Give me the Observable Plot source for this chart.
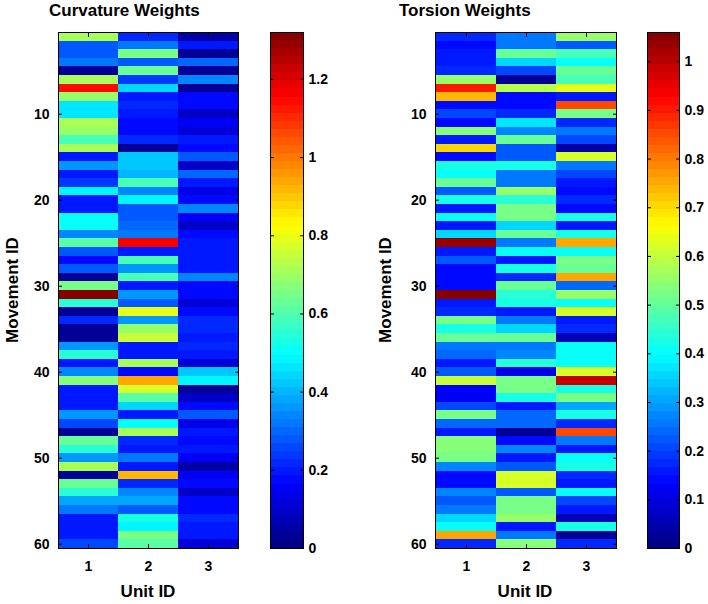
<!DOCTYPE html>
<html><head><meta charset="utf-8">
<script src="https://cdn.jsdelivr.net/npm/d3@7"></script>
<script src="https://cdn.jsdelivr.net/npm/@observablehq/plot@0.6"></script>
<style>
body{margin:0;background:#fff;}
#root{position:relative;width:708px;height:604px;font-family:"Liberation Sans",Arial,Helvetica,sans-serif;}
.p{position:absolute;top:0;}
.title{position:absolute;font-weight:bold;font-size:17px;line-height:20px;top:1px;color:#000;white-space:nowrap;}
.lab{position:absolute;font-weight:bold;font-size:17px;line-height:20px;color:#000;white-space:nowrap;}
</style></head><body><div id="root"></div>
<script>
const units = [1, 2, 3];
const movements = d3.range(1, 61);
const yTicks = [10, 20, 30, 40, 50, 60];
const curvTicks = [0, 0.2, 0.4, 0.6, 0.8, 1, 1.2];
const torsTicks = [0, 0.1, 0.2, 0.3, 0.4, 0.5, 0.6, 0.7, 0.8, 0.9, 1];
const curvMax = 1.32;
const torsMax = 1.06;

const curv1 = [0.72,0.27,0.27,0.31,0.03,0.72,1.15,0.70,0.47,0.47,0.72,0.70,0.58,0.72,0.20,0.37,0.20,0.24,0.48,0.20,0.20,0.50,0.50,0.34,0.60,0.28,0.17,0.28,0.03,0.64,1.30,0.54,0.03,0.22,0.03,0.03,0.37,0.55,0.20,0.33,0.66,0.20,0.20,0.20,0.36,0.25,0.03,0.62,0.55,0.37,0.72,0.03,0.63,0.55,0.38,0.32,0.20,0.20,0.20,0.25];
const curv2 = [0.22,0.32,0.64,0.27,0.62,0.24,0.44,0.20,0.22,0.20,0.18,0.18,0.22,0.03,0.42,0.43,0.40,0.58,0.33,0.49,0.27,0.27,0.29,0.31,1.17,0.20,0.58,0.36,0.58,0.20,0.36,0.28,0.80,0.36,0.70,0.75,0.20,0.20,0.72,0.17,0.93,0.78,0.60,0.45,0.20,0.51,0.72,0.22,0.20,0.31,0.20,0.92,0.22,0.33,0.38,0.28,0.52,0.48,0.65,0.60];
const curv3 = [0.05,0.20,0.04,0.30,0.04,0.33,0.04,0.18,0.18,0.10,0.16,0.12,0.20,0.18,0.27,0.09,0.30,0.19,0.14,0.17,0.33,0.16,0.10,0.17,0.20,0.20,0.20,0.20,0.33,0.18,0.18,0.12,0.17,0.22,0.22,0.20,0.22,0.20,0.12,0.42,0.49,0.04,0.10,0.17,0.27,0.13,0.20,0.18,0.20,0.16,0.05,0.16,0.18,0.10,0.17,0.17,0.22,0.20,0.20,0.11];
const tors1 = [0.18,0.14,0.16,0.16,0.18,0.56,0.90,0.74,0.14,0.20,0.14,0.54,0.16,0.70,0.14,0.42,0.40,0.50,0.22,0.43,0.16,0.40,0.16,0.35,1.03,0.16,0.22,0.14,0.14,0.14,1.05,0.16,0.18,0.52,0.43,0.50,0.26,0.24,0.16,0.22,0.61,0.13,0.13,0.20,0.52,0.24,0.16,0.53,0.53,0.52,0.28,0.14,0.14,0.28,0.22,0.26,0.35,0.40,0.76,0.18];
const tors2 = [0.26,0.26,0.50,0.35,0.20,0.02,0.58,0.14,0.14,0.18,0.37,0.28,0.50,0.22,0.22,0.43,0.26,0.26,0.56,0.44,0.52,0.52,0.35,0.50,0.26,0.40,0.16,0.43,0.18,0.50,0.44,0.43,0.16,0.26,0.35,0.50,0.26,0.28,0.44,0.10,0.52,0.52,0.43,0.16,0.24,0.24,0.03,0.14,0.28,0.16,0.22,0.62,0.62,0.22,0.52,0.52,0.55,0.16,0.26,0.53];
const tors3 = [0.55,0.22,0.48,0.40,0.50,0.48,0.63,0.16,0.86,0.52,0.18,0.26,0.20,0.04,0.62,0.26,0.20,0.15,0.14,0.18,0.14,0.43,0.16,0.42,0.75,0.40,0.52,0.50,0.75,0.24,0.55,0.40,0.62,0.16,0.18,0.06,0.40,0.40,0.40,0.62,0.98,0.43,0.52,0.30,0.43,0.18,0.86,0.26,0.16,0.40,0.43,0.18,0.16,0.40,0.20,0.16,0.06,0.43,0.03,0.18];

// MATLAB-like jet colormap with 64 discrete levels
function jet(t) {
  const k = Math.min(63, Math.max(0, Math.floor(t * 64)));
  const x = (k + 0.5) / 64;
  const c = v => Math.round(255 * Math.max(0, Math.min(1, v)));
  return `rgb(${c(1.5 - Math.abs(4 * x - 3))},${c(1.5 - Math.abs(4 * x - 2))},${c(1.5 - Math.abs(4 * x - 1))})`;
}

const FONT = '"Liberation Sans", Arial, Helvetica, sans-serif';
const baseStyle = {fontFamily: FONT, fontSize: "14px", fontWeight: "bold", color: "#000", background: "transparent", overflow: "visible"};
const noText = () => "";

function heat(cols, max, width, mLeft, mRight) {
  const data = [];
  units.forEach((u, j) => movements.forEach((m, i) => data.push({unit: u, movement: m, value: cols[j][i]})));
  return Plot.plot({
    width, height: 604, marginLeft: mLeft, marginRight: mRight, marginTop: 32, marginBottom: 56,
    style: baseStyle,
    x: {type: "band", domain: units, padding: 0},
    y: {type: "band", domain: movements, padding: 0},
    color: {type: "linear", domain: [0, max], interpolate: jet, clamp: true},
    marks: [
      Plot.cell(data, {x: "unit", y: "movement", fill: "value", inset: 0, shapeRendering: "crispEdges"}),
      Plot.frame({stroke: "#000", strokeWidth: 1}),
      Plot.axisY({anchor: "left", ticks: yTicks, tickSize: 0, tickPadding: 9, fontSize: 14, label: null}),
      Plot.axisY({anchor: "left", ticks: yTicks, tickSize: 4, dx: 4, tickFormat: noText, label: null}),
      Plot.axisY({anchor: "right", ticks: yTicks, tickSize: 4, dx: -4, tickFormat: noText, label: null}),
      Plot.axisX({anchor: "bottom", tickSize: 0, tickPadding: 13, fontSize: 14, label: null}),
      Plot.axisX({anchor: "bottom", tickSize: 4, dy: -4, tickFormat: noText, label: null}),
      Plot.axisX({anchor: "top", tickSize: 4, dy: 4, tickFormat: noText, label: null})
    ]
  });
}

function colorbar(max, ticks, width, mLeft, mRight) {
  const bins = d3.range(64).map(i => ({y1: i * max / 64, y2: (i + 1) * max / 64, v: (i + 0.5) * max / 64}));
  return Plot.plot({
    width, height: 604, marginLeft: mLeft, marginRight: mRight, marginTop: 32, marginBottom: 56,
    style: baseStyle,
    x: {domain: [0, 1], axis: null},
    y: {domain: [0, max], axis: null},
    color: {type: "linear", domain: [0, max], interpolate: jet, clamp: true},
    marks: [
      Plot.rect(bins, {y1: "y1", y2: "y2", fill: "v", shapeRendering: "crispEdges"}),
      Plot.frame({stroke: "#000", strokeWidth: 1}),
      Plot.axisY({anchor: "right", ticks, tickSize: 0, tickPadding: 5, fontSize: 14, tickFormat: d => String(d), label: null}),
      Plot.axisY({anchor: "right", ticks, tickSize: 4, dx: -4, tickFormat: noText, label: null}),
      Plot.axisY({anchor: "left", ticks, tickSize: 4, dx: 4, tickFormat: noText, label: null})
    ]
  });
}

const root = document.getElementById("root");
function place(node, left) {
  node.classList.add("p");
  node.style.left = left + "px";
  root.appendChild(node);
}
place(heat([curv1, curv2, curv3], curvMax, 250, 58, 12), 0);
place(colorbar(curvMax, curvTicks, 80, 10, 37), 260);
place(heat([tors1, tors2, tors3], torsMax, 265, 75, 9), 360);
place(colorbar(torsMax, torsTicks, 78, 17, 29), 630);

function title(text, left) {
  const d = document.createElement("div");
  d.className = "title";
  d.style.left = left + "px";
  d.textContent = text;
  root.appendChild(d);
}
function label(text, cx, cy, rotate) {
  const d = document.createElement("div");
  d.className = "lab";
  d.style.left = cx + "px";
  d.style.top = cy + "px";
  d.style.transform = `translate(-50%,-50%)${rotate ? " rotate(-90deg)" : ""}`;
  d.textContent = text;
  root.appendChild(d);
}
title("Curvature Weights", 49);
title("Torsion Weights", 399);
label("Movement ID", 13, 290, true);
label("Movement ID", 386, 290, true);
label("Unit ID", 148, 592, false);
label("Unit ID", 525, 592, false);
</script>
</body></html>
